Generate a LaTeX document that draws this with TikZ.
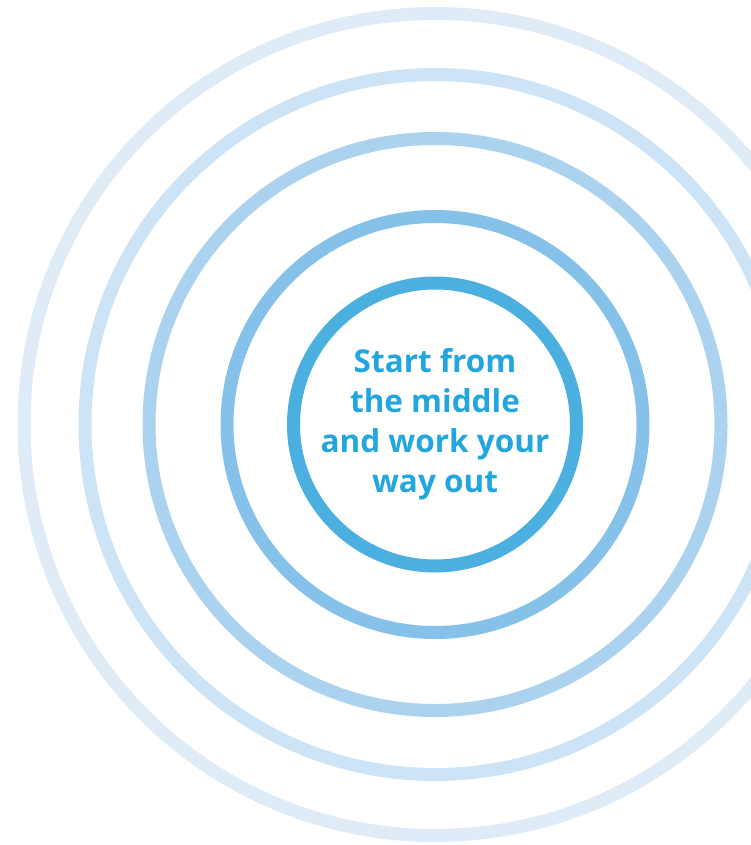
\documentclass[tikz,border=0pt]{standalone}
\usepackage{fontspec}
\setmainfont{Open Sans}
\definecolor{ringA}{RGB}{75,175,224}
\definecolor{ringB}{RGB}{133,193,233}
\definecolor{ringC}{RGB}{171,210,239}
\definecolor{ringD}{RGB}{205,227,246}
\definecolor{ringE}{RGB}{223,236,248}
\definecolor{textblue}{RGB}{34,166,221}
\usetikzlibrary{positioning}
\tikzstyle{base}=[x=1pt, y=-1pt, inner sep=0pt, outer sep=0pt]
\tikzstyle{ring}=[circle, draw, line width=13pt, inner sep=0pt]

\begin{document}
\begin{tikzpicture}[base]
    \path [use as bounding box] (0,0) rectangle (751,845);
    \clip (0,0) rectangle (751,845);
    \coordinate (mid) at (435,424.5);
        \node [ring, ringE, minimum size=822pt] (ring5) at (mid) {};
        \node [ring, ringD, minimum size=700pt] (ring4) at (mid) {};
        \node [ring, ringC, minimum size=572pt] (ring3) at (mid) {};
        \node [ring, ringB, minimum size=416pt] (ring2) at (mid) {};
        \node [ring, ringA, minimum size=283pt] (ring1) at (mid) {};
        \node [textblue, align=center, font=\fontsize{31.5}{40}\selectfont\bfseries] (label) at (mid) {Start from\\the middle\\and work your\\way out};
    \end{tikzpicture}
\end{document}
